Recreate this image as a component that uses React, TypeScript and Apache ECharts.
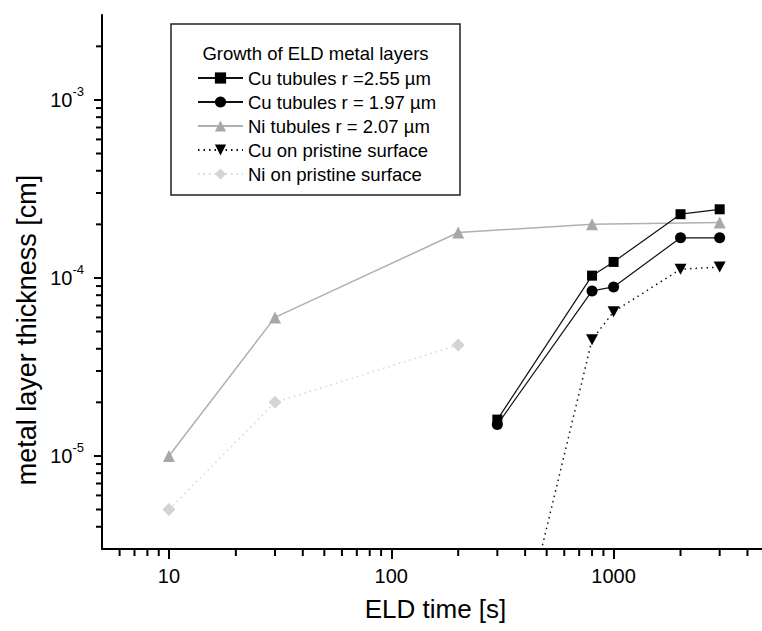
import React, { useEffect, useRef } from 'react';
import * as echarts from 'echarts';

// ---- data ----
const cuX = [300, 800, 1000, 2000, 3000];
const cuTub255 = [1.6e-5, 1.03e-4, 1.23e-4, 2.28e-4, 2.43e-4];
const cuTub197 = [1.5e-5, 8.45e-5, 8.9e-5, 1.68e-4, 1.68e-4];
const niTubX = [10, 30, 200, 800, 3000];
const niTub = [1.0e-5, 6.0e-5, 1.8e-4, 2.0e-4, 2.05e-4];
const cuPrisX = [300, 800, 1000, 2000, 3000];
const cuPris = [2.8e-7, 4.5e-5, 6.45e-5, 1.12e-4, 1.15e-4];
const niPrisX = [10, 30, 200];
const niPris = [5e-6, 2e-5, 4.2e-5];

const seriesNames = [
  'Cu tubules r =2.55 \u00b5m',
  'Cu tubules r = 1.97 \u00b5m',
  'Ni tubules r = 2.07 \u00b5m',
  'Cu on pristine surface',
  'Ni on pristine surface',
];
const legendTitle = 'Growth of ELD metal layers';
const xTitle = 'ELD time [s]';
const yTitle = 'metal layer thickness [cm]';

const X_MIN = 5;
const X_MAX = 5000;
const Y_MIN = 3e-6;
const Y_MAX = 3e-3;

const xMinorTicks = [6, 7, 8, 9, 20, 30, 40, 50, 60, 70, 80, 90, 200, 300, 400, 500, 600, 700, 800, 900, 2000, 3000, 4000];
const yMinorTicks = [
  4e-6, 5e-6, 6e-6, 7e-6, 8e-6, 9e-6,
  2e-5, 3e-5, 4e-5, 5e-5, 6e-5, 7e-5, 8e-5, 9e-5,
  2e-4, 3e-4, 4e-4, 5e-4, 6e-4, 7e-4, 8e-4, 9e-4,
  2e-3,
];

const FONT = "'Liberation Sans', Arial, Helvetica, sans-serif";

const isDecade = (v: number) => {
  const l = Math.log10(v);
  return Math.abs(l - Math.round(l)) < 1e-6;
};

const pairs = (xs: number[], ys: number[]) => xs.map((x, i) => [x, ys[i]]);

export default function App() {
  const ref = useRef<HTMLDivElement>(null);
  useEffect(() => {
    if (!ref.current) return;
    const chart = echarts.init(ref.current, null, { renderer: 'svg' });
    const option: any = {
      animation: false,
      backgroundColor: '#fff',
      textStyle: { fontFamily: FONT },
      grid: { left: 102, right: -7, top: 15, bottom: 82, containLabel: false, outerBoundsMode: 'none' },
      legend: {
        data: seriesNames,
        orient: 'vertical',
        left: 197,
        top: 68.5,
        padding: 0,
        itemWidth: 45,
        itemHeight: 14,
        itemGap: 5,
        selectedMode: false,
        textStyle: { fontSize: 18.5, color: '#000', fontFamily: FONT, lineHeight: 18.5 },
      },
      graphic: [
        {
          type: 'rect',
          shape: { x: 171, y: 24, width: 289, height: 171 },
          style: { fill: 'none', stroke: '#222', lineWidth: 1.5 },
          z: 10,
        },
        {
          type: 'text',
          x: 315.5,
          y: 53,
          style: { text: legendTitle, fontSize: 18.5, fontFamily: FONT, fill: '#000', textAlign: 'center', textVerticalAlign: 'middle' },
          z: 10,
        },
        {
          type: 'text',
          x: 27,
          y: 330,
          rotation: Math.PI / 2,
          style: { text: yTitle, fontSize: 27, fontFamily: FONT, fill: '#000', textAlign: 'center', textVerticalAlign: 'middle' },
          z: 10,
        },
      ],
      xAxis: {
        type: 'log',
        logBase: 10,
        min: X_MIN,
        max: X_MAX,
        name: xTitle,
        nameLocation: 'middle',
        nameGap: 47,
        nameTextStyle: { fontSize: 26, color: '#000', fontFamily: FONT },
        axisLine: { show: true, lineStyle: { color: '#000', width: 2 } },
        axisTick: { show: true, length: 10, lineStyle: { color: '#000', width: 2 } },
        axisLabel: {
          fontSize: 20,
          color: '#000',
          margin: 17,
          showMinLabel: false,
          showMaxLabel: false,
          formatter: (v: number) => (isDecade(v) ? String(Math.round(v)) : ''),
        },
        splitLine: { show: false },
        minorTick: { show: false },
      },
      yAxis: {
        type: 'log',
        logBase: 10,
        min: Y_MIN,
        max: Y_MAX,
        axisLine: { show: true, lineStyle: { color: '#000', width: 2 } },
        axisTick: { show: true, length: 8, lineStyle: { color: '#000', width: 2 } },
        axisLabel: {
          color: '#000',
          margin: 18,
          showMinLabel: false,
          showMaxLabel: false,
          formatter: (v: number) => (isDecade(v) ? `{b|10}{s|${Math.round(Math.log10(v))}}` : ''),
          rich: {
            b: { fontSize: 20, color: '#000', fontFamily: FONT },
            s: { fontSize: 13, color: '#000', fontFamily: FONT, padding: [0, 0, 16, 0] },
          },
        },
        splitLine: { show: false },
        minorTick: { show: false },
      },
      series: [
        {
          name: seriesNames[0],
          type: 'line',
          data: pairs(cuX, cuTub255),
          symbol: 'rect',
          symbolSize: 10,
          itemStyle: { color: '#000' },
          lineStyle: { color: '#111', width: 1.2 },
          z: 4,
        },
        {
          name: seriesNames[1],
          type: 'line',
          data: pairs(cuX, cuTub197),
          symbol: 'circle',
          symbolSize: 11,
          itemStyle: { color: '#000' },
          lineStyle: { color: '#111', width: 1.2 },
          z: 4,
        },
        {
          name: seriesNames[2],
          type: 'line',
          data: pairs(niTubX, niTub),
          symbol: 'triangle',
          symbolSize: 12,
          itemStyle: { color: '#a8a8a8' },
          lineStyle: { color: '#b0b0b0', width: 1.5 },
          z: 3,
        },
        {
          name: seriesNames[3],
          type: 'line',
          data: pairs(cuPrisX, cuPris),
          symbol: 'path://M0,0L2,0L1,1.732Z',
          symbolSize: [12, 11],
          itemStyle: { color: '#000' },
          lineStyle: { color: '#111', width: 1.5, type: [1.5, 4] },
          clip: true,
          z: 4,
        },
        {
          name: seriesNames[4],
          type: 'line',
          data: pairs(niPrisX, niPris),
          symbol: 'diamond',
          symbolSize: 13,
          itemStyle: { color: '#d4d4d4' },
          lineStyle: { color: '#d6d6d6', width: 1.5, type: [1.5, 4] },
          z: 3,
        },
        {
          name: 'x-minor',
          type: 'scatter',
          clip: false,
          silent: true,
          data: xMinorTicks.map((v) => [v, Y_MIN]),
          symbol: 'rect',
          symbolSize: [2, 7],
          symbolOffset: [0, 3.5],
          itemStyle: { color: '#000', opacity: 1 },
          z: 5,
        },
        {
          name: 'y-minor',
          type: 'scatter',
          clip: false,
          silent: true,
          data: yMinorTicks.map((v) => [X_MIN, v]),
          symbol: 'rect',
          symbolSize: [6, 2],
          symbolOffset: [-3, 0],
          itemStyle: { color: '#000', opacity: 1 },
          z: 5,
        },
      ],
    };
    chart.setOption(option);
    return () => chart.dispose();
  }, []);
  return (
    <div
      ref={ref}
      style={{ position: 'fixed', left: 0, top: 0, width: 762, height: 631, background: '#fff' }}
    />
  );
}
